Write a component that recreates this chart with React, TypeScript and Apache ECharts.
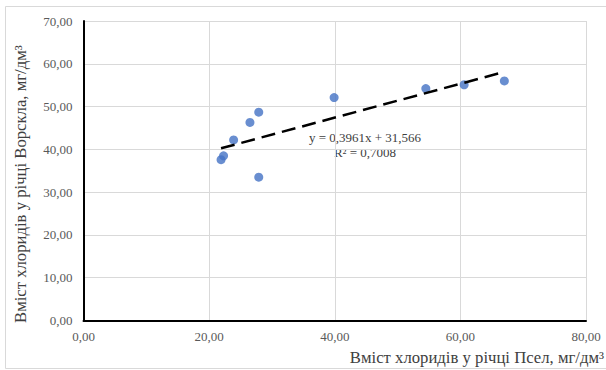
import React, { useEffect, useRef } from "react";
import * as echarts from "echarts";

// Data: chloride content, Psel (x) vs Vorskla (y), mg/dm³
const pselValues = [21.9, 22.3, 23.9, 26.5, 27.9, 27.9, 39.9, 54.5, 60.6, 67.0];
const vorsklaValues = [37.6, 38.5, 42.2, 46.3, 48.7, 33.5, 52.1, 54.2, 55.1, 56.0];

// Linear trendline coefficients shown on the chart
const trendSlope = 0.3961;
const trendIntercept = 31.566;
const equationLines = ["y = 0,3961x + 31,566", "R² = 0,7008"];

const xTitle = "Вміст хлоридів у річці Псел, мг/дм³";
const yTitle = "Вміст хлоридів у річці Ворскла, мг/дм³";

const FONT = "'Liberation Serif', 'Times New Roman', serif";

export default function App() {
  const ref = useRef<HTMLDivElement>(null);

  useEffect(() => {
    if (!ref.current) return;
    const chart = echarts.init(ref.current, undefined, { renderer: "svg" });

    const points = pselValues.map((x, i) => [x, vorsklaValues[i]]);
    const xMin = Math.min(...pselValues);
    const xMax = Math.max(...pselValues);
    const trend = [
      [xMin, trendSlope * xMin + trendIntercept],
      [xMax, trendSlope * xMax + trendIntercept],
    ];

    const fmt = (v: number) => v.toFixed(2).replace(".", ",");

    chart.setOption({
      animation: false,
      backgroundColor: "#ffffff",
      grid: { left: 83.5, right: 20, top: 21, bottom: 49.5, containLabel: false },
      xAxis: {
        type: "value",
        min: 0,
        max: 80,
        interval: 20,
        axisLine: { show: true, onZero: false, lineStyle: { color: "#000000", width: 2 } },
        axisTick: { show: false },
        axisLabel: {
          formatter: fmt,
          color: "#595959",
          fontFamily: FONT,
          fontSize: 13,
          margin: 9,
        },
        splitLine: { show: true, lineStyle: { color: "#d9d9d9", width: 1 } },
      },
      yAxis: {
        type: "value",
        min: 0,
        max: 70,
        interval: 10,
        axisLine: { show: true, onZero: false, lineStyle: { color: "#000000", width: 2 } },
        axisTick: { show: false },
        axisLabel: {
          formatter: fmt,
          color: "#595959",
          fontFamily: FONT,
          fontSize: 13,
          margin: 11,
        },
        splitLine: { show: true, lineStyle: { color: "#d9d9d9", width: 1 } },
      },
      series: [
        {
          type: "scatter",
          data: points,
          symbol: "circle",
          symbolSize: 9,
          itemStyle: { color: "#4472c4" },
          z: 2,
        },
        {
          type: "line",
          data: trend,
          symbol: "none",
          lineStyle: { color: "#000000", width: 2.5, type: [14, 7] },
          z: 3,
        },
      ],
      graphic: [
        {
          type: "rect",
          shape: { x: 5.5, y: 6.5, width: 620, height: 362 },
          style: { fill: "none", stroke: "#d9d9d9", lineWidth: 1 },
          silent: true,
          z: -1,
        },
        {
          type: "text",
          x: 365,
          y: 137,
          style: {
            text: equationLines[0],
            fontFamily: FONT,
            fontSize: 13,
            fill: "#404040",
            align: "center",
            verticalAlign: "middle",
          },
        },
        {
          type: "text",
          x: 365,
          y: 152,
          style: {
            text: equationLines[1],
            fontFamily: FONT,
            fontSize: 13,
            fill: "#404040",
            align: "center",
            verticalAlign: "middle",
          },
        },
        {
          type: "text",
          x: 604,
          y: 357,
          style: {
            text: xTitle,
            fontFamily: FONT,
            fontSize: 16.7,
            fill: "#404040",
            align: "right",
            verticalAlign: "middle",
          },
        },
        {
          type: "text",
          x: 20,
          y: 323,
          rotation: Math.PI / 2,
          style: {
            text: yTitle,
            fontFamily: FONT,
            fontSize: 16.7,
            fill: "#404040",
            align: "left",
            verticalAlign: "middle",
          },
        },
      ],
    });

    return () => chart.dispose();
  }, []);

  return (
    <div
      ref={ref}
      style={{ position: "absolute", left: 0, top: 0, width: 606, height: 370 }}
    />
  );
}
